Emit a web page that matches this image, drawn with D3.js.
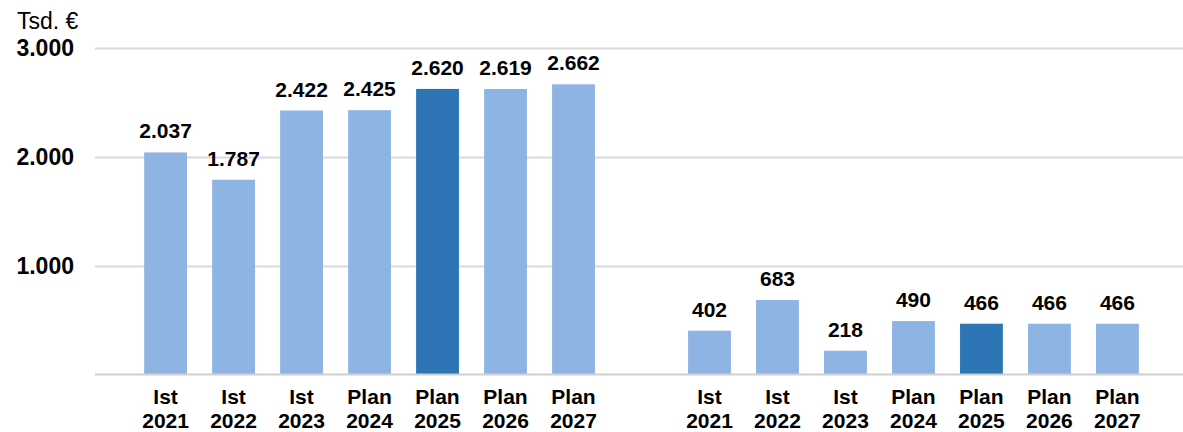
<!DOCTYPE html>
<html>
<head>
<meta charset="utf-8">
<script src="https://cdn.jsdelivr.net/npm/d3@7"></script>
<style>
  body { margin: 0; background: #fff; }
  svg text { font-family: "Liberation Sans", Arial, sans-serif; }
</style>
</head>
<body>
<svg id="chart" width="1183" height="432"></svg>
<script>
const kinds = ["Ist", "Ist", "Ist", "Plan", "Plan", "Plan", "Plan"];
const years = ["2021", "2022", "2023", "2024", "2025", "2026", "2027"];
const leftValues = [2037, 1787, 2422, 2425, 2620, 2619, 2662];
const rightValues = [402, 683, 218, 490, 466, 466, 466];
const yTicks = [1000, 2000, 3000];
const highlightYear = "2025";

const svg = d3.select("#chart"),
  width = +svg.attr("width"),
  height = +svg.attr("height");

const fmt = v => d3.format(",")(v).replace(/,/g, ".");

// 7 bars, one empty slot, 7 bars
const data = [];
years.forEach((yr, i) => data.push({ key: "L" + i, kind: kinds[i], year: yr, value: leftValues[i] }));
const domain = data.map(d => d.key).concat(["gap"]);
years.forEach((yr, i) => data.push({ key: "R" + i, kind: kinds[i], year: yr, value: rightValues[i] }));
years.forEach((yr, i) => domain.push("R" + i));

const x = d3.scaleBand().domain(domain).range([119, 1164]).padding(0.37);
const y = d3.scaleLinear().domain([0, 3000]).range([374.5, 47.5]);

// gridlines
svg.append("g")
  .selectAll("line")
  .data(yTicks)
  .join("line")
  .attr("x1", 95).attr("x2", width)
  .attr("y1", d => Math.round(y(d)) + 0.5)
  .attr("y2", d => Math.round(y(d)) + 0.5)
  .attr("stroke", "#d9d9d9")
  .attr("stroke-width", 2);

// y labels
svg.append("g")
  .selectAll("text")
  .data(yTicks)
  .join("text")
  .attr("x", 74)
  .attr("y", d => y(d))
  .attr("dy", "0.36em")
  .attr("text-anchor", "end")
  .attr("font-size", "23px")
  .attr("font-weight", "bold")
  .attr("fill", "#000")
  .text(fmt);

svg.append("text")
  .attr("x", 17).attr("y", 29)
  .attr("font-size", "23px")
  .attr("fill", "#000")
  .text("Tsd. €");

// bars
svg.append("g")
  .selectAll("rect")
  .data(data)
  .join("rect")
  .attr("x", d => x(d.key))
  .attr("y", d => y(d.value))
  .attr("width", x.bandwidth())
  .attr("height", d => y(0) - y(d.value))
  .attr("fill", d => d.year === highlightYear ? "#2e75b6" : "#8db4e2");

// baseline
svg.append("line")
  .attr("x1", 95).attr("x2", width)
  .attr("y1", 374.5).attr("y2", 374.5)
  .attr("stroke", "#d0d0d0")
  .attr("stroke-width", 2);

// value labels
svg.append("g")
  .selectAll("text")
  .data(data)
  .join("text")
  .attr("x", d => x(d.key) + x.bandwidth() / 2)
  .attr("y", d => y(d.value) - 14)
  .attr("text-anchor", "middle")
  .attr("font-size", "21px")
  .attr("font-weight", "bold")
  .attr("fill", "#000")
  .text(d => fmt(d.value));

// category labels
const cat = svg.append("g")
  .selectAll("text")
  .data(data)
  .join("text")
  .attr("text-anchor", "middle")
  .attr("font-size", "21px")
  .attr("font-weight", "bold")
  .attr("fill", "#000");
cat.append("tspan")
  .attr("x", d => x(d.key) + x.bandwidth() / 2)
  .attr("y", 404)
  .text(d => d.kind);
cat.append("tspan")
  .attr("x", d => x(d.key) + x.bandwidth() / 2)
  .attr("y", 428)
  .text(d => d.year);
</script>
</body>
</html>
